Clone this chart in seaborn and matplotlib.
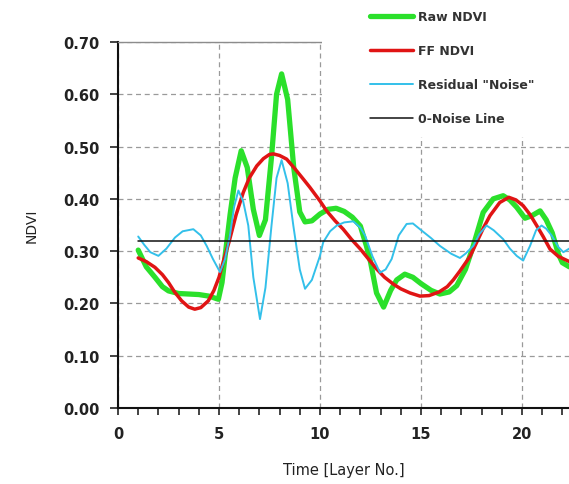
import matplotlib
matplotlib.use("Agg")
import matplotlib.pyplot as plt
from matplotlib.patches import Rectangle
from matplotlib.ticker import MultipleLocator, FormatStrFormatter
import seaborn as sns
import pandas as pd

# values
raw_x = [1.0, 1.4, 1.83, 2.2, 2.5, 3.0, 3.5, 4.0, 4.5, 4.97, 5.15, 5.3, 5.55, 5.8, 6.1,
         6.4, 6.7, 7.0, 7.3, 7.6, 7.85, 8.1, 8.4, 8.7, 9.0, 9.26, 9.6, 10.0, 10.4, 10.8,
         11.2, 11.6, 12.0, 12.3, 12.5, 12.8, 13.15, 13.5, 13.8, 14.2, 14.6, 15.0, 15.5,
         15.94, 16.4, 16.77, 17.2, 17.59, 18.08, 18.58, 19.07, 19.4, 19.74, 20.15, 20.5,
         20.9, 21.2, 21.5, 21.8, 22.0, 22.35]
raw_ndvi = [0.302, 0.270, 0.250, 0.232, 0.224, 0.219, 0.218, 0.217, 0.214, 0.208, 0.240,
            0.290, 0.370, 0.440, 0.492, 0.460, 0.380, 0.330, 0.360, 0.480, 0.600, 0.639,
            0.590, 0.460, 0.375, 0.356, 0.358, 0.371, 0.380, 0.382, 0.376, 0.365, 0.348,
            0.310, 0.280, 0.220, 0.193, 0.225, 0.245, 0.256, 0.250, 0.238, 0.225, 0.218,
            0.222, 0.234, 0.265, 0.310, 0.374, 0.400, 0.406, 0.398, 0.384, 0.363, 0.368,
            0.377, 0.360, 0.335, 0.295, 0.278, 0.270]

ff_x = [1.0, 1.4, 1.83, 2.2, 2.5, 2.8, 3.15, 3.5, 3.8, 4.1, 4.47, 4.75, 5.0, 5.25, 5.5,
        5.85, 6.2, 6.5, 6.87, 7.2, 7.5, 7.7, 8.0, 8.35, 8.75, 9.17, 9.5, 10.0, 10.33,
        10.75, 11.15, 11.55, 12.0, 12.4, 12.8, 13.2, 13.63, 14.0, 14.46, 14.95, 15.4,
        15.9, 16.3, 16.6, 16.93, 17.43, 17.76, 18.1, 18.42, 18.9, 19.35, 19.7, 20.06,
        20.4, 20.73, 21.05, 21.39, 21.8, 22.35]
ff_ndvi = [0.287, 0.280, 0.269, 0.255, 0.240, 0.222, 0.205, 0.193, 0.189, 0.192, 0.205,
           0.225, 0.250, 0.285, 0.318, 0.370, 0.412, 0.440, 0.463, 0.477, 0.485, 0.486,
           0.483, 0.476, 0.458, 0.438, 0.422, 0.396, 0.377, 0.358, 0.342, 0.323, 0.304,
           0.285, 0.266, 0.250, 0.237, 0.228, 0.220, 0.214, 0.215, 0.222, 0.232, 0.245,
           0.262, 0.290, 0.317, 0.345, 0.368, 0.393, 0.403, 0.398, 0.387, 0.370, 0.349,
           0.328, 0.304, 0.290, 0.280]

noise_x = [1.0, 1.3, 1.6, 2.0, 2.4, 2.82, 3.2, 3.73, 4.1, 4.39, 4.7, 5.05, 5.3, 5.54,
           5.75, 5.96, 6.2, 6.45, 6.7, 7.03, 7.3, 7.6, 7.85, 8.1, 8.4, 8.68, 9.0, 9.26,
           9.6, 10.0, 10.16, 10.5, 10.83, 11.2, 11.65, 12.0, 12.23, 12.6, 12.97, 13.25,
           13.55, 13.9, 14.29, 14.6, 14.95, 15.5, 15.94, 16.5, 16.93, 17.2, 17.59, 17.9,
           18.25, 18.6, 19.07, 19.4, 19.74, 20.06, 20.4, 20.7, 20.97, 21.2, 21.47, 21.8,
           22.05, 22.35]
noise_ndvi = [0.328, 0.312, 0.298, 0.291, 0.305, 0.326, 0.338, 0.342, 0.330, 0.310, 0.285,
              0.260, 0.285, 0.330, 0.385, 0.416, 0.395, 0.349, 0.250, 0.170, 0.230, 0.349,
              0.440, 0.474, 0.430, 0.349, 0.265, 0.228, 0.245, 0.291, 0.317, 0.338, 0.349,
              0.355, 0.357, 0.345, 0.330, 0.290, 0.259, 0.265, 0.285, 0.330, 0.352, 0.353,
              0.342, 0.325, 0.310, 0.295, 0.287, 0.295, 0.310, 0.333, 0.349, 0.340, 0.323,
              0.305, 0.291, 0.282, 0.310, 0.340, 0.349, 0.343, 0.330, 0.308, 0.298, 0.305]

zero_x = [1.0, 23.0]
zero_ndvi = [0.319, 0.319]

series = [
    ("Raw NDVI", raw_x, raw_ndvi, "#2BE02B", 3.8),
    ("FF NDVI", ff_x, ff_ndvi, "#E01414", 2.5),
    ("Residual \"Noise\"", noise_x, noise_ndvi, "#33C0EA", 1.4),
    ("0-Noise Line", zero_x, zero_ndvi, "#111111", 1.1),
]

sns.set_theme(style="white")
plt.rcParams["font.family"] = ["DejaVu Sans"]

fig = plt.figure(figsize=(5.69, 4.85), dpi=100)
ax = fig.add_axes([0.2074, 0.1567, 0.7926, 0.7546])

for name, xs, ys, color, lw in series:
    df = pd.DataFrame({"time": xs, "ndvi": ys})
    sns.lineplot(data=df, x="time", y="ndvi", ax=ax, color=color, linewidth=lw,
                 label=name, sort=False, estimator=None, zorder=3)

ax.set_xlim(0, 22.33)
ax.set_ylim(0, 0.70)
ax.xaxis.set_major_locator(MultipleLocator(5))
ax.xaxis.set_minor_locator(MultipleLocator(1))
ax.yaxis.set_major_locator(MultipleLocator(0.1))
ax.yaxis.set_major_formatter(FormatStrFormatter("%.2f"))

ax.grid(True, which="major", color="#9a9a9a", linestyle=(0, (4, 3)), linewidth=0.9)
ax.tick_params(axis="both", which="both", direction="out", bottom=True, left=True,
               colors="#222222", labelsize=10.5, width=1.2)
ax.tick_params(axis="x", which="both", length=5, pad=8)
ax.tick_params(axis="y", which="major", length=6, pad=7)
for lab in ax.get_xticklabels() + ax.get_yticklabels():
    lab.set_fontweight("bold")

for side in ["left", "bottom"]:
    ax.spines[side].set_color("#111111")
    ax.spines[side].set_linewidth(1.5)
ax.spines["right"].set_visible(False)
ax.spines["top"].set_color("#8c8c8c")
ax.spines["top"].set_linewidth(1.0)

ax.set_xlabel("Time [Layer No.]", fontsize=10.5, color="#222222", labelpad=15)
ax.set_ylabel("NDVI", fontsize=10, color="#222222", labelpad=18)

# white backing behind the legend (covers grid in that corner)
ax.add_patch(Rectangle((0.452, 0.74), 0.6, 0.4, transform=ax.transAxes,
                       facecolor="white", edgecolor="none", clip_on=False, zorder=2.6))

leg = ax.legend(loc="upper left", bbox_to_anchor=(0.5588, 1.087), frameon=False,
                fontsize=9, borderpad=0, borderaxespad=0, handlelength=3.45,
                handletextpad=0.4, labelspacing=1.68)
for t in leg.get_texts():
    t.set_fontweight("bold")
    t.set_color("#333333")
leg.set_zorder(5)

fig.savefig("out.png", dpi=100)
